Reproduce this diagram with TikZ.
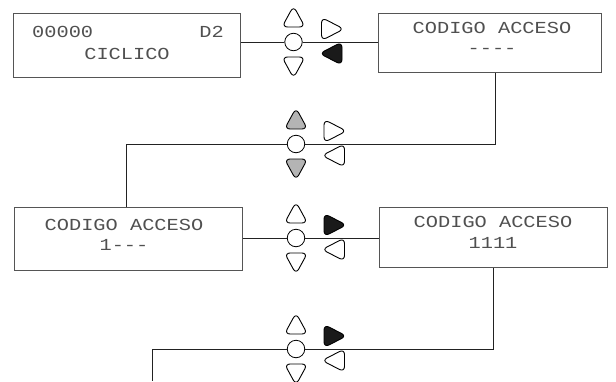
\documentclass[tikz,border=0pt]{standalone}
\usepackage{fontspec}
\newfontfamily\lcdfont[FakeStretch=1.21]{Liberation Mono}
\definecolor{boxc}{HTML}{555555}
\definecolor{linec}{HTML}{222222}
\definecolor{txtc}{HTML}{505050}
\definecolor{grayfill}{HTML}{B4B4B4}
\definecolor{blackfill}{HTML}{1A1A1A}
\newcommand{\knobgroup}[6]{%
  \node[knob] (#1) at (#2,#3) {};
  \begin{scope}[shift={(#2,#3)}]
    \draw[tri,fill=#4] (0,-36) -- (11.5,-15) -- (-11.5,-15) -- cycle;
    \draw[tri,fill=#4] (0,36) -- (11.5,15) -- (-11.5,15) -- cycle;
    \draw[tri,fill=#5] (50.5,-13) -- (28,-24.5) -- (28,-1.5) -- cycle;
    \draw[tri,fill=#6] (26,11.5) -- (48.5,0) -- (48.5,23) -- cycle;
  \end{scope}}
\begin{document}
\begin{tikzpicture}[x=1pt,y=-1pt,
  box/.style={draw=boxc, line width=0.9pt, inner sep=0pt, anchor=north west},
  knob/.style={circle, draw=black, line width=0.8pt, minimum size=17.5pt, inner sep=0pt, fill=white},
  conn/.style={draw=linec, line width=0.8pt},
  tri/.style={draw=black, line width=0.9pt, rounded corners=5.5pt, line join=round},
  lcd/.style={inner sep=0pt, text=txtc, font=\lcdfont\fontsize{16.8}{20}\selectfont}]
\useasboundingbox (0,0) rectangle (616,381);
% boxes
\node[box, minimum width=227pt, minimum height=64pt] (b1) at (13,12.7) {};
\node[box, minimum width=223pt, minimum height=59pt] (b2) at (378,13) {};
\node[box, minimum width=228pt, minimum height=63pt] (b3) at (14,207) {};
\node[box, minimum width=228pt, minimum height=60pt] (b4) at (379,207) {};
% texts
\node[lcd, anchor=base west] (t1a) at (32,37.5) {00000};
\node[lcd, anchor=base east] (t1b) at (224,37.5) {D2};
\node[lcd, anchor=base] (t1c) at (127,59.3) {CICLICO};
\node[lcd, anchor=base] (t2a) at (492,33.4) {CODIGO ACCESO};
\node[lcd, anchor=base] (t2b) at (492,53.5) {----};
\node[lcd, anchor=base] (t3a) at (124,230) {CODIGO ACCESO};
\node[lcd, anchor=base] (t3b) at (124,250) {1---};
\node[lcd, anchor=base] (t4a) at (493,227.3) {CODIGO ACCESO};
\node[lcd, anchor=base] (t4b) at (493,248.3) {1111};
% knobs with arrow keys
\knobgroup{k1}{293.5}{42}{white}{white}{blackfill}
\knobgroup{k2}{296}{144}{grayfill}{white}{white}
\knobgroup{k3}{296}{238}{white}{blackfill}{white}
\knobgroup{k4}{296}{349}{white}{blackfill}{white}
\coordinate (end) at (152,381);
% connectors
\draw[conn] (b1.east |- k1) -- (k1.west);
\draw[conn] (k1.east) -- (b2.west |- k1);
\draw[conn] ([xshift=5.5pt]b2.south) |- (k2.east);
\draw[conn] (k2.west) -| ([xshift=-2pt]b3.north);
\draw[conn] (b3.east |- k3) -- (k3.west);
\draw[conn] (k3.east) -- (b4.west |- k3);
\draw[conn] (b4.south) |- (k4.east);
\draw[conn] (k4.west) -| (end);
\end{tikzpicture}
\end{document}
